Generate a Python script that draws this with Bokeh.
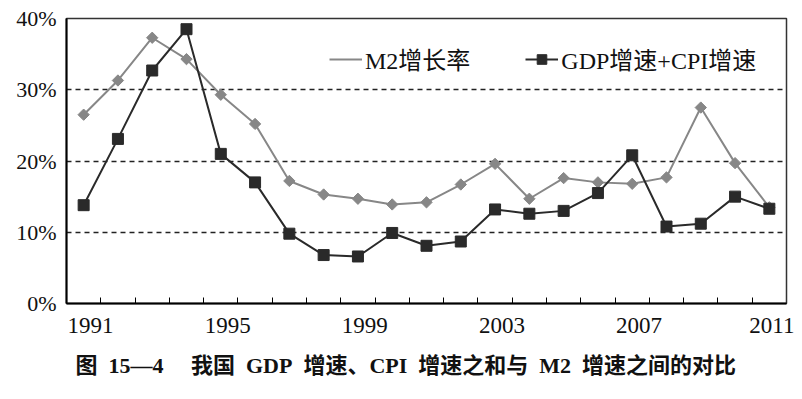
from bokeh.plotting import figure
from bokeh.models import (Range1d, LinearAxis, FixedTicker, Legend, LegendItem, Title,
                          ColumnDataSource, CDSView, IndexFilter)
from bokeh.embed import file_html
from bokeh.resources import INLINE
import math

# ---------------- data ----------------
years = list(range(1991, 2012))
m2_growth = [26.5, 31.3, 37.3, 34.3, 29.3, 25.2, 17.2, 15.3, 14.7, 13.9, 14.2,
             16.7, 19.6, 14.7, 17.6, 17.0, 16.8, 17.7, 27.5, 19.7, 13.5]
gdp_cpi = [13.8, 23.1, 32.7, 38.5, 21.0, 17.0, 9.8, 6.8, 6.6, 9.9, 8.1,
           8.7, 13.2, 12.6, 13.0, 15.5, 20.8, 10.8, 11.2, 15.0, 13.3]
label_years = [1991, 1995, 1999, 2003, 2007, 2011]
y_ticks = [0, 10, 20, 30, 40]
legend_labels = ["M2增长率", "GDP增速+CPI增速"]
caption = ("图\u200215—4\u3000 我国\u2002GDP\u2002增速、CPI\u2002增速之和与\u2002M2\u2002"
           "增速之间的对比")

SERIF = "Liberation Serif, Noto Sans CJK SC"
GRAY = "#878787"
DARK = "#2a2a2a"

src = ColumnDataSource(dict(year=years, m2=m2_growth, gc=gdp_cpi))

p = figure(width=794, height=399,
           x_range=Range1d(years[0] - 0.5, years[-1] + 0.5),
           y_range=Range1d(y_ticks[0], y_ticks[-1]),
           output_backend="svg", toolbar_location=None, x_axis_location=None,
           min_border_left=66, min_border_right=8, min_border_top=18, min_border_bottom=96)
p.background_fill_color = "white"
p.border_fill_color = "white"
p.outline_line_color = "#333333"
p.outline_line_width = 1.5

# y axis
ya = p.yaxis[0]
ya.ticker = FixedTicker(ticks=y_ticks)
ya.major_label_overrides = {t: f"{t}%" for t in y_ticks}
ya.axis_line_color = "black"
ya.axis_line_width = 2
ya.major_tick_in = 0
ya.major_tick_out = 0
ya.minor_tick_line_color = None
ya.major_label_standoff = 10
ya.major_label_text_font = SERIF
ya.major_label_text_font_size = "22px"
ya.major_label_text_color = "#111111"

# x axis (labels slightly shifted, as in the original)
shift = 0.2
p.extra_x_ranges = {"lab": Range1d(years[0] - 0.5 - shift, years[-1] + 0.5 - shift)}
xa = LinearAxis(x_range_name="lab",
                ticker=FixedTicker(ticks=label_years,
                                   minor_ticks=[y + 0.5 - shift for y in years[:-1]]))
xa.axis_line_color = "black"
xa.axis_line_width = 2
xa.major_tick_in = 0
xa.major_tick_out = 0
xa.minor_tick_in = 6
xa.minor_tick_out = 0
xa.minor_tick_line_color = "black"
xa.minor_tick_line_width = 1
xa.major_label_standoff = 14
xa.major_label_text_font = SERIF
xa.major_label_text_font_size = "23px"
xa.major_label_text_color = "#111111"
p.add_layout(xa, "below")

# caption under the axis
cap = Title(text=caption, align="left", offset=9, standoff=30,
            text_font=SERIF, text_font_size="22px", text_font_style="bold",
            text_color="#111111")
p.add_layout(cap, "below")

# grid
p.xgrid.visible = False
p.ygrid.ticker = FixedTicker(ticks=y_ticks[1:-1])
p.ygrid.grid_line_color = "#222222"
p.ygrid.grid_line_dash = "5 4"
p.ygrid.grid_line_width = 1.3

# series
l1 = p.line("year", "m2", source=src, line_color=GRAY, line_width=2)
s1 = p.scatter("year", "m2", source=src, marker="square", angle=math.pi / 4, size=8,
               fill_color=GRAY, line_color=GRAY)
d1 = p.scatter("year", "m2", source=src, view=CDSView(filter=IndexFilter(indices=[])),
               marker="diamond", size=12, fill_color=GRAY, line_color=GRAY)
l2 = p.line("year", "gc", source=src, line_color=DARK, line_width=2)
s2 = p.scatter("year", "gc", source=src, marker="square", size=11,
               fill_color=DARK, line_color=DARK)

legend = Legend(items=[LegendItem(label=legend_labels[0], renderers=[l1, d1]),
                       LegendItem(label=legend_labels[1], renderers=[l2, s2])],
                orientation="horizontal", location=(263, 227), spacing=55,
                padding=0, margin=0, glyph_width=33, glyph_height=24, label_standoff=3,
                label_text_font=SERIF, label_text_font_size="24px",
                label_text_color="#111111",
                border_line_color=None, background_fill_alpha=0)
p.add_layout(legend)

open("out.html", "w").write(file_html(p, INLINE))
